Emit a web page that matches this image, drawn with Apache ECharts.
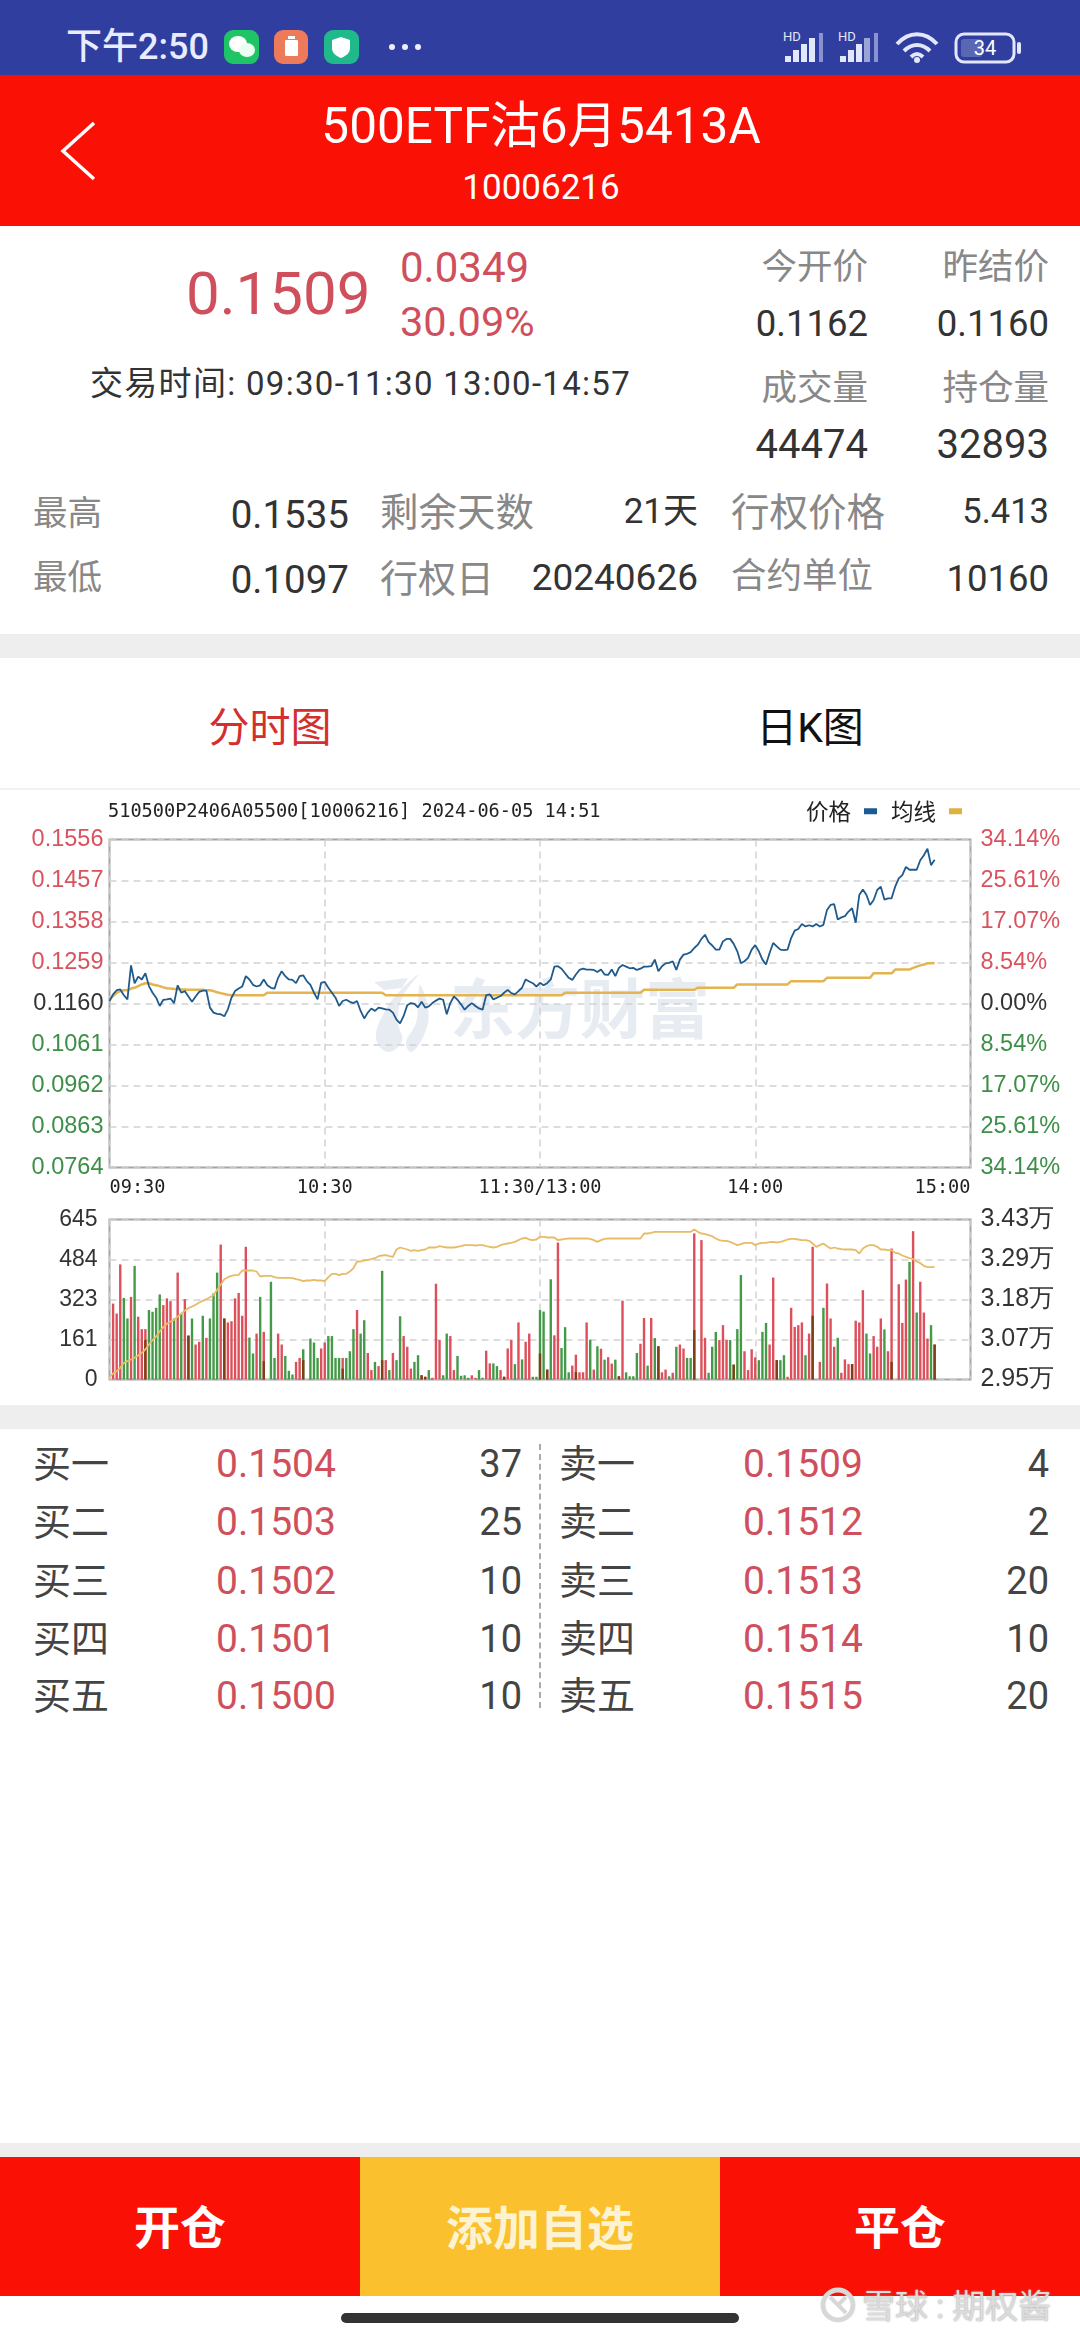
<!DOCTYPE html>
<html>
<head>
<meta charset="utf-8">
<title>500ETF沽6月5413A</title>
<script src="https://cdn.jsdelivr.net/npm/echarts@6/dist/echarts.min.js"></script>
<style>
html,body{margin:0;padding:0;background:#fff;}
#page{position:relative;width:1080px;height:2340px;overflow:hidden;background:#fff;font-family:Roboto,"Noto Sans CJK SC",sans-serif;}
#page div.t{position:absolute;white-space:nowrap;line-height:1;}
.box{position:absolute;}
#chart{position:absolute;left:0;top:790px;width:1080px;height:615px;}
</style>
</head>
<body>
<div id="page">
<div class="box" style="left:0;top:0;width:1080px;height:75px;background:#303f9f"></div>
<div class="box" style="left:0;top:75px;width:1080px;height:151px;background:#fb1006"></div>
<div class="box" style="left:0;top:634px;width:1080px;height:24px;background:#eeeeee"></div>
<div class="box" style="left:0;top:788px;width:1080px;height:5px;background:#f1f1f1"></div>
<div class="box" style="left:0;top:1405px;width:1080px;height:24px;background:#eeeeee"></div>
<div class="box" style="left:539px;top:1444px;height:264px;border-left:2px dashed #aaa"></div>
<div class="box" style="left:0;top:2143px;width:1080px;height:14px;background:#eeeeee"></div>
<div class="box" style="left:0;top:2157px;width:360px;height:139px;background:#fb1006"></div>
<div class="box" style="left:360px;top:2157px;width:360px;height:139px;background:#fbc02d"></div>
<div class="box" style="left:720px;top:2157px;width:360px;height:139px;background:#fb1006"></div>
<div class="box" style="left:341px;top:2313px;width:398px;height:10px;border-radius:5px;background:#333"></div>

<svg class="box" style="left:0;top:0" width="1080" height="240">
  <rect x="224" y="30" width="35" height="34" rx="9" fill="#1fc467"/>
  <ellipse cx="238" cy="44" rx="9" ry="8" fill="#fff"/><ellipse cx="247" cy="50" rx="8" ry="7" fill="#eafff2"/>
  <rect x="274" y="30" width="34" height="34" rx="9" fill="#ee7a5c"/>
  <rect x="285" y="40" width="13" height="16" rx="1" fill="#fff"/><rect x="288" y="36" width="7" height="3" fill="#fff"/>
  <rect x="324" y="30" width="35" height="34" rx="9" fill="#1fb98c"/>
  <path d="M341 37l9 3v8c0 5-4 8-9 10c-5-2-9-5-9-10v-8z" fill="#fff"/>
  <circle cx="392" cy="47" r="3" fill="#eef"/><circle cx="405" cy="47" r="3" fill="#eef"/><circle cx="418" cy="47" r="3" fill="#eef"/>
  <g fill="#e3e7fb">
    <rect x="785" y="56" width="6" height="6"/><rect x="793" y="50" width="6" height="12"/><rect x="801" y="44" width="6" height="18"/><rect x="809" y="38" width="6" height="24"/><rect x="819" y="33" width="4" height="29" opacity=".5"/>
    <rect x="840" y="56" width="6" height="6"/><rect x="848" y="50" width="6" height="12"/><rect x="856" y="44" width="6" height="18"/><rect x="864" y="38" width="6" height="24" opacity=".6"/><rect x="874" y="33" width="4" height="29" opacity=".5"/>
  </g>
  <g fill="none" stroke="#e3e7fb" stroke-width="4">
    <path d="M897 44c12-13 28-13 40 0"/><path d="M904 51c8-8 18-8 26 0"/><path d="M911 57c4-4 8-4 12 0"/>
  </g>
  <circle cx="917" cy="60" r="3" fill="#e3e7fb"/>
  <rect x="956" y="34" width="58" height="28" rx="8" fill="none" stroke="#e3e7fb" stroke-width="3"/>
  <rect x="961" y="39" width="21" height="18" rx="3" fill="#5a68b4"/>
  <rect x="1017" y="42" width="4" height="12" rx="2" fill="#e3e7fb"/>
  <path d="M94 123L63 151L94 179" fill="none" stroke="#fff" stroke-width="3.5"/>
</svg>
<svg class="box" style="left:818px;top:2285px" width="50" height="42">
  <circle cx="20" cy="20" r="15" fill="none" stroke="#d8d8d8" stroke-width="5"/>
  <path d="M12 12l16 16M28 12l-8 8" stroke="#d8d8d8" stroke-width="4" fill="none"/>
</svg>
<div id="chart"></div>
</div>
<script>
// 分时价格 0-230
var prices=[
.1166,.1182,.1192,.1194,.1180,.1170,.1252,.1209,.1225,.1218,
.1233,.1202,.1186,.1174,.1154,.1169,.1170,.1172,.1161,.1204,
.1186,.1190,.1177,.1164,.1177,.1188,.1191,.1191,.1150,.1138,
.1135,.1134,.1129,.1146,.1174,.1190,.1196,.1201,.1226,.1218,
.1205,.1201,.1204,.1218,.1204,.1198,.1196,.1222,.1238,.1226,
.1218,.1217,.1209,.1226,.1228,.1214,.1205,.1186,.1170,.1210,
.1212,.1198,.1186,.1174,.1154,.1166,.1169,.1164,.1161,.1166,
.1142,.1124,.1138,.1148,.1142,.1150,.1148,.1146,.1145,.1138,
.1121,.1112,.1130,.1156,.1161,.1159,.1151,.1164,.1150,.1153,
.1161,.1167,.1172,.1169,.1134,.1161,.1177,.1169,.1158,.1145,
.1154,.1161,.1154,.1148,.1145,.1180,.1182,.1170,.1174,.1178,
.1186,.1193,.1185,.1182,.1190,.1198,.1218,.1213,.1209,.1201,
.1210,.1204,.1209,.1218,.1249,.1250,.1244,.1233,.1222,.1217,
.1230,.1241,.1244,.1242,.1242,.1241,.1236,.1242,.1230,.1229,
.1242,.1226,.1246,.1253,.1249,.1245,.1246,.1241,.1244,.1249,
.1249,.1250,.1266,.1238,.1250,.1257,.1258,.1262,.1241,.1266,
.1278,.1280,.1284,.1294,.1302,.1316,.1326,.1308,.1300,.1290,
.1290,.1310,.1316,.1316,.1304,.1286,.1257,.1262,.1270,.1290,
.1301,.1286,.1266,.1254,.1282,.1306,.1298,.1290,.1289,.1290,
.1318,.1336,.1340,.1352,.1346,.1349,.1346,.1352,.1346,.1350,
.1386,.1398,.1400,.1363,.1368,.1371,.1382,.1390,.1355,.1422,
.1435,.1422,.1398,.1410,.1434,.1442,.1411,.1414,.1414,.1442,
.1462,.1470,.1490,.1483,.1483,.1483,.1506,.1518,.1534,.1494,.1507];
// 均线
var avgPrices=[
.1170,.1178,.1186,.1190,.1192,.1192,.1196,.1198,.1202,.1206,
.1209,.1209,.1206,.1204,.1202,.1199,.1197,.1196,.1195,.1195,
.1194,.1194,.1193,.1193,.1193,.1193,.1193,.1192,.1192,.1190,
.1187,.1185,.1183,.1181,.1180,.1180,.1180,.1180,.1180,.1180,
.1180,.1180,.1180,.1180,.1186,.1186,.1186,.1186,.1186,.1186,
.1186,.1186,.1186,.1186,.1186,.1186,.1186,.1186,.1186,.1186,
.1186,.1186,.1186,.1186,.1186,.1186,.1186,.1186,.1186,.1186,
.1186,.1186,.1186,.1186,.1186,.1186,.1186,.1180,.1180,.1180,
.1180,.1180,.1180,.1180,.1180,.1180,.1180,.1180,.1180,.1180,
.1180,.1180,.1180,.1180,.1180,.1180,.1180,.1180,.1180,.1180,
.1180,.1180,.1180,.1180,.1180,.1180,.1180,.1180,.1180,.1180,
.1180,.1180,.1180,.1180,.1180,.1180,.1180,.1180,.1180,.1180,
.1180,.1180,.1180,.1180,.1180,.1180,.1180,.1186,.1186,.1186,
.1186,.1186,.1186,.1186,.1186,.1186,.1186,.1186,.1186,.1186,
.1186,.1186,.1186,.1186,.1186,.1186,.1186,.1186,.1186,.1193,
.1193,.1193,.1193,.1193,.1193,.1193,.1193,.1193,.1193,.1193,
.1193,.1193,.1193,.1193,.1198,.1198,.1198,.1198,.1198,.1198,
.1198,.1198,.1198,.1198,.1198,.1206,.1206,.1206,.1206,.1206,
.1206,.1206,.1206,.1206,.1206,.1206,.1206,.1206,.1206,.1206,
.1214,.1214,.1214,.1214,.1214,.1214,.1214,.1214,.1214,.1214,
.1222,.1222,.1222,.1222,.1222,.1222,.1222,.1222,.1222,.1222,
.1222,.1222,.1222,.1233,.1233,.1233,.1233,.1233,.1233,.1242,
.1242,.1242,.1242,.1242,.1246,.1249,.1252,.1254,.1257,.1257,.1258];
// 成交量：红、绿、两色叠加的深色部分
var redVol=[
0,306,266,464,0,0,333,0,253,203,
203,0,0,0,0,300,327,316,0,431,
0,324,177,0,141,152,0,168,0,0,
0,544,0,230,235,327,349,257,535,0,
0,185,0,192,0,0,0,185,141,0,
0,0,71,87,0,0,0,0,0,125,
149,0,0,0,0,87,0,0,0,280,
0,0,107,38,0,54,0,78,0,107,
0,0,175,132,44,0,0,17,11,0,
7,386,159,0,0,175,38,0,0,0,
0,17,7,0,0,116,65,0,0,38,
11,125,159,0,230,0,152,185,0,0,
0,0,40,0,178,552,0,0,0,56,
100,29,29,230,0,40,0,124,0,90,
64,0,13,318,0,0,0,0,144,248,
0,248,0,0,29,40,0,27,0,141,
125,0,0,589,0,562,168,0,0,0,
159,219,159,0,0,0,0,114,38,122,
89,0,0,0,141,411,0,0,0,11,
289,212,219,230,0,185,535,0,71,0,
387,246,132,0,27,81,62,62,237,230,
360,0,0,175,132,246,0,114,528,0,
384,228,403,0,598,0,394,270,165,0,141];
var greenVol=[
0,0,0,0,329,246,0,458,0,0,
0,280,273,289,343,0,0,0,246,0,
266,0,0,246,0,0,257,0,246,347,
431,0,246,0,0,0,0,0,0,169,
105,0,333,0,0,394,87,0,0,95,
35,20,0,0,122,0,165,149,87,0,
0,175,175,87,87,0,87,114,203,0,
185,239,0,0,71,0,438,0,38,0,
78,255,0,0,0,71,98,0,0,38,
0,0,0,17,185,0,0,95,15,17,
7,0,0,38,7,0,0,65,54,0,
0,0,0,62,0,81,0,0,11,11,
280,274,0,404,0,0,127,211,29,0,
0,0,0,0,160,0,134,0,80,0,
0,80,0,0,29,13,13,107,0,0,
56,0,167,134,0,0,13,0,132,0,
0,87,87,0,0,0,0,27,132,192,
0,0,0,159,60,203,421,0,0,0,
0,78,192,228,0,0,78,78,98,0,
0,0,0,0,98,0,0,0,0,289,
0,0,0,168,0,0,0,0,0,0,
0,185,105,0,0,0,202,0,0,0,
0,0,0,474,0,270,0,0,0,219,0];
var darkVol=[
0,0,0,0,0,0,0,0,0,0,
159,0,0,0,0,0,0,0,0,0,
0,0,177,0,0,0,0,0,0,0,
0,0,246,0,0,0,0,0,0,0,
0,0,0,74,0,0,0,0,0,0,
0,0,0,0,78,0,0,0,0,0,
0,0,0,0,0,44,0,0,0,0,
0,0,0,0,0,0,78,0,0,0,
0,0,0,0,0,0,0,17,11,0,
0,0,0,0,0,0,0,0,0,0,
0,0,0,0,0,0,0,0,0,0,
11,0,0,0,0,0,0,0,0,0,
105,0,40,0,0,0,0,0,0,0,
30,0,0,0,0,0,0,0,0,0,
0,0,13,0,0,0,0,0,0,0,
0,0,0,134,0,0,0,0,0,0,
0,0,0,199,0,0,0,0,0,0,
0,0,0,0,60,0,0,0,0,0,
0,0,0,0,0,0,78,0,0,0,
0,0,0,0,0,0,257,0,0,0,
0,0,0,0,0,0,0,62,0,0,
0,0,0,0,0,0,0,0,71,0,
0,0,0,0,0,0,0,0,0,0,141];
// 持仓量(万)
var openInt=[
2.958,2.968,2.975,2.985,3.000,3.005,3.010,3.015,3.022,3.030,
3.040,3.055,3.068,3.079,3.094,3.107,3.117,3.124,3.129,3.139,
3.147,3.157,3.164,3.169,3.174,3.181,3.186,3.191,3.197,3.203,
3.219,3.234,3.251,3.257,3.261,3.263,3.264,3.277,3.277,3.277,
3.277,3.274,3.259,3.261,3.261,3.261,3.257,3.255,3.255,3.255,
3.255,3.254,3.251,3.249,3.245,3.247,3.247,3.249,3.247,3.247,
3.245,3.257,3.267,3.267,3.263,3.267,3.267,3.274,3.284,3.304,
3.304,3.307,3.309,3.311,3.314,3.320,3.322,3.323,3.320,3.318,
3.340,3.346,3.343,3.340,3.336,3.338,3.336,3.338,3.340,3.346,
3.346,3.346,3.350,3.348,3.346,3.346,3.346,3.348,3.350,3.353,
3.353,3.353,3.352,3.353,3.353,3.350,3.348,3.346,3.348,3.353,
3.356,3.358,3.360,3.363,3.368,3.373,3.375,3.370,3.368,3.370,
3.378,3.378,3.376,3.376,3.376,3.368,3.370,3.372,3.373,3.373,
3.373,3.373,3.373,3.373,3.372,3.368,3.363,3.368,3.372,3.373,
3.373,3.373,3.373,3.373,3.373,3.373,3.373,3.373,3.373,3.388,
3.388,3.390,3.393,3.393,3.393,3.393,3.393,3.393,3.393,3.393,
3.393,3.393,3.393,3.400,3.393,3.388,3.386,3.383,3.380,3.373,
3.368,3.366,3.366,3.363,3.358,3.353,3.356,3.360,3.360,3.360,
3.353,3.358,3.360,3.360,3.362,3.363,3.361,3.363,3.366,3.370,
3.372,3.372,3.370,3.368,3.368,3.366,3.358,3.348,3.353,3.358,
3.350,3.343,3.346,3.343,3.341,3.340,3.340,3.340,3.338,3.328,
3.343,3.350,3.353,3.353,3.348,3.340,3.340,3.338,3.338,3.330,
3.328,3.322,3.318,3.314,3.311,3.304,3.299,3.291,3.287,3.287,3.288];
var priceTicks=[.0764,.0863,.0962,.1061,.1160,.1259,.1358,.1457,.1556];
var pctLabels=['34.14%','25.61%','17.07%','8.54%','0.00%','8.54%','17.07%','25.61%','34.14%'];
var volTicks=[0,161,323,484,645];
var oiTicks=[2.95,3.07,3.19,3.31,3.43];
var oiLabels=['2.95万','3.07万','3.18万','3.29万','3.43万'];
var timeLabels={0:'09:30',60:'10:30',120:'11:30/13:00',180:'14:00',240:'15:00'};

// 报价区
var priceRed='#cf4f5c';
var buyNames=['买一','买二','买三','买四','买五'];
var buyPrices=['0.1504','0.1503','0.1502','0.1501','0.1500'];
var buyQtys=['37','25','10','10','10'];
var sellNames=['卖一','卖二','卖三','卖四','卖五'];
var sellPrices=['0.1509','0.1512','0.1513','0.1514','0.1515'];
var sellQtys=['4','2','20','10','20'];
var rowY=[1464,1522,1581,1639,1696];

function put(txt,x,y,size,color,align,extra){
    var d=document.createElement('div');
    d.className='t';
    d.textContent=txt;
    var tx=align=='right'?'-100%':(align=='center'?'-50%':'0');
    d.style.cssText='left:'+x+'px;top:'+y+'px;font-size:'+size+'px;color:'+color+';transform:translate('+tx+',-50%);'+(extra||'');
    document.getElementById('page').appendChild(d);
}
// 顶部
put('下午2:50',66,47,36,'#e8ecff','left','font-weight:500');
put('HD',783,36,13,'#e3e7fb','left');
put('HD',838,36,13,'#e3e7fb','left');
put('34',985,48,20,'#fff','center');
put('500ETF沽6月5413A',541,127,49.5,'#fff','center');
put('10006216',541,187,35,'#fff','center');
// 行情
put('0.1509',186,294,60,priceRed);
put('0.0349',400,268,42,priceRed);
put('30.09%',400,322,41.5,priceRed);
put('交易时间: 09:30-11:30 13:00-14:57',90,383,33,'#333','left','letter-spacing:1.3px');
put('今开价',868,268,35.5,'#888','right');
put('昨结价',1049,268,35.5,'#888','right');
put('0.1162',868,324,36.5,'#333','right');
put('0.1160',1049,324,36.5,'#333','right');
put('成交量',868,389,35.5,'#888','right');
put('持仓量',1049,389,35.5,'#888','right');
put('44474',868,445,40,'#333','right');
put('32893',1049,445,40,'#333','right');
put('最高',33,513,34.5,'#888');
put('0.1535',349,515,38.5,'#333','right');
put('剩余天数',380,513,38.5,'#888');
put('21天',698,511,35,'#333','right');
put('行权价格',731,513,38.5,'#888');
put('5.413',1049,511,34.5,'#333','right');
put('最低',33,577,34.5,'#888');
put('0.1097',349,580,38.5,'#333','right');
put('行权日',380,579,38,'#888');
put('20240626',698,577,37,'#333','right');
put('合约单位',731,577,35.5,'#888');
put('10160',1049,579,36.5,'#333','right');
put('分时图',270,728,41,'#d32f2f','center');
put('日K图',810,728,41,'#111','center');
// 五档
for(var r=0;r<5;r++){
    put(buyNames[r],33,rowY[r],38,'#444');
    put(buyPrices[r],276,rowY[r],39,priceRed,'center');
    put(buyQtys[r],522,rowY[r],38,'#444','right');
    put(sellNames[r],559,rowY[r],38,'#444');
    put(sellPrices[r],803,rowY[r],39,priceRed,'center');
    put(sellQtys[r],1049,rowY[r],38,'#444','right');
}
// 底部按钮
put('开仓',180,2228,46,'#fff','center','font-weight:700');
put('添加自选',540,2228,47,'#fdf3d0','center','font-weight:700');
put('平仓',900,2228,46,'#fff','center','font-weight:700');
put('雪球 : 期权酱',862,2306,33,'#dcdcdc','left','text-shadow:0 0 2px #999');

// 图表
var categories=[];
for(var m=0;m<=240;m++){
    categories.push(timeLabels[m]||String(m));
}
var tickFont='"DejaVu Sans Mono",monospace';
var numFont='"Liberation Sans",sans-serif';
var gridDash={show:true,lineStyle:{color:'#d2d2d2',type:[7,5],width:1.5}};
function upDown(v,i){
    return i<4?'#3d8f47':(i==4?'#333':'#d9535e');
}
var myChart=echarts.init(document.getElementById('chart'));
var option={
    animation:false,
    backgroundColor:'#fff',
    title:{
        text:'510500P2406A05500[10006216] 2024-06-05 14:51',
        left:108,top:13,padding:0,
        textStyle:{fontFamily:tickFont,fontSize:18.6,fontWeight:'normal',color:'#222'}
    },
    legend:{
        data:[{name:'价格',icon:'rect'},{name:'均线',icon:'rect'}],
        right:118,top:10,padding:0,align:'right',
        itemWidth:13,itemHeight:6,itemGap:14,
        textStyle:{fontFamily:'"Noto Sans CJK SC"',fontSize:22.5,color:'#222',padding:[0,8,0,0]}
    },
    graphic:[
        {type:'polygon',z:0,silent:true,
         shape:{points:[[418,185],[402,208],[398,233],[402,251],[388,262],[376,248],[384,223],[398,203]],smooth:.4},
         style:{fill:'#e7ebf2'}},
        {type:'polygon',z:0,silent:true,
         shape:{points:[[420,195],[428,218],[426,240],[412,262],[406,253],[416,233],[418,213]],smooth:.4},
         style:{fill:'#e7ebf2'}},
        {type:'polygon',z:0,silent:true,
         shape:{points:[[374,192],[408,188],[402,198],[384,200]]},
         style:{fill:'#e7ebf2'}},
        {type:'text',z:0,silent:true,left:450,top:186,
         style:{text:'东方财富',fill:'#e7ebf2',font:'bold 65px "Noto Sans CJK SC"'}}
    ],
    grid:[
        {left:109.5,width:861,top:49.5,height:328,show:true,borderColor:'#a3a3a3',borderWidth:2,backgroundColor:'transparent'},
        {left:109.5,width:861,top:429.5,height:160,show:true,borderColor:'#a3a3a3',borderWidth:2,backgroundColor:'transparent'}
    ],
    xAxis:[
        {type:'category',gridIndex:0,data:categories,boundaryGap:false,
         axisLine:{show:false},axisTick:{show:false},
         splitLine:{show:true,interval:59,lineStyle:{color:'#d2d2d2',type:[7,5],width:1.5}},
         axisLabel:{interval:59,margin:11,showMaxLabel:true,alignMinLabel:'left',alignMaxLabel:'right',
                    fontFamily:tickFont,fontSize:18.6,color:'#222'}},
        {type:'category',gridIndex:1,data:categories,boundaryGap:false,
         axisLine:{show:false},axisTick:{show:false},axisLabel:{show:false},
         splitLine:{show:true,interval:59,lineStyle:{color:'#d2d2d2',type:[7,5],width:1.5}}}
    ],
    yAxis:[
        {type:'value',gridIndex:0,min:priceTicks[0],max:priceTicks[8],position:'left',
         axisLine:{show:false},axisTick:{show:false,customValues:priceTicks},splitLine:gridDash,
         axisLabel:{customValues:priceTicks,margin:6,fontFamily:numFont,fontSize:23.5,color:upDown,
                    formatter:function(v){return v.toFixed(4);}}},
        {type:'value',gridIndex:0,min:priceTicks[0],max:priceTicks[8],position:'right',
         axisLine:{show:false},axisTick:{show:false,customValues:priceTicks},splitLine:{show:false},
         axisLabel:{customValues:priceTicks,margin:10,fontFamily:numFont,fontSize:23.5,color:upDown,
                    formatter:function(v){return pctLabels[priceTicks.indexOf(v)];}}},
        {type:'value',gridIndex:1,min:0,max:645,position:'left',
         axisLine:{show:false},axisTick:{show:false,customValues:volTicks},splitLine:gridDash,
         axisLabel:{customValues:volTicks,margin:12,padding:[10,0,0,0],fontFamily:numFont,fontSize:23,color:'#333',
                    formatter:function(v){return String(v);}}},
        {type:'value',gridIndex:1,min:2.95,max:3.43,position:'right',
         axisLine:{show:false},axisTick:{show:false,customValues:oiTicks},splitLine:{show:false},
         axisLabel:{customValues:oiTicks,margin:10,fontFamily:numFont,fontSize:25,color:'#333',
                    formatter:function(v){return oiLabels[oiTicks.indexOf(v)];}}}
    ],
    series:[
        {name:'价格',type:'line',xAxisIndex:0,yAxisIndex:0,data:prices,showSymbol:false,
         itemStyle:{color:'#1b5b94'},lineStyle:{color:'#1f5a8c',width:1.8},z:4},
        {name:'均线',type:'line',xAxisIndex:0,yAxisIndex:0,data:avgPrices,showSymbol:false,
         itemStyle:{color:'#e0b040'},lineStyle:{color:'#e3b44f',width:2.5},z:3},
        {name:'买',type:'bar',xAxisIndex:1,yAxisIndex:2,data:redVol,barWidth:2.4,barGap:'-100%',
         itemStyle:{color:'#dc4f5b'}},
        {name:'卖',type:'bar',xAxisIndex:1,yAxisIndex:2,data:greenVol,barWidth:2.4,barGap:'-100%',
         itemStyle:{color:'#459a48'}},
        {name:'叠加',type:'bar',xAxisIndex:1,yAxisIndex:2,data:darkVol,barWidth:2.4,barGap:'-100%',
         itemStyle:{color:'#7d3f14'}},
        {name:'持仓量',type:'line',xAxisIndex:1,yAxisIndex:3,data:openInt,showSymbol:false,
         lineStyle:{color:'#e8bb66',width:1.8},z:4}
    ]
};
myChart.setOption(option);
</script>
</body>
</html>
